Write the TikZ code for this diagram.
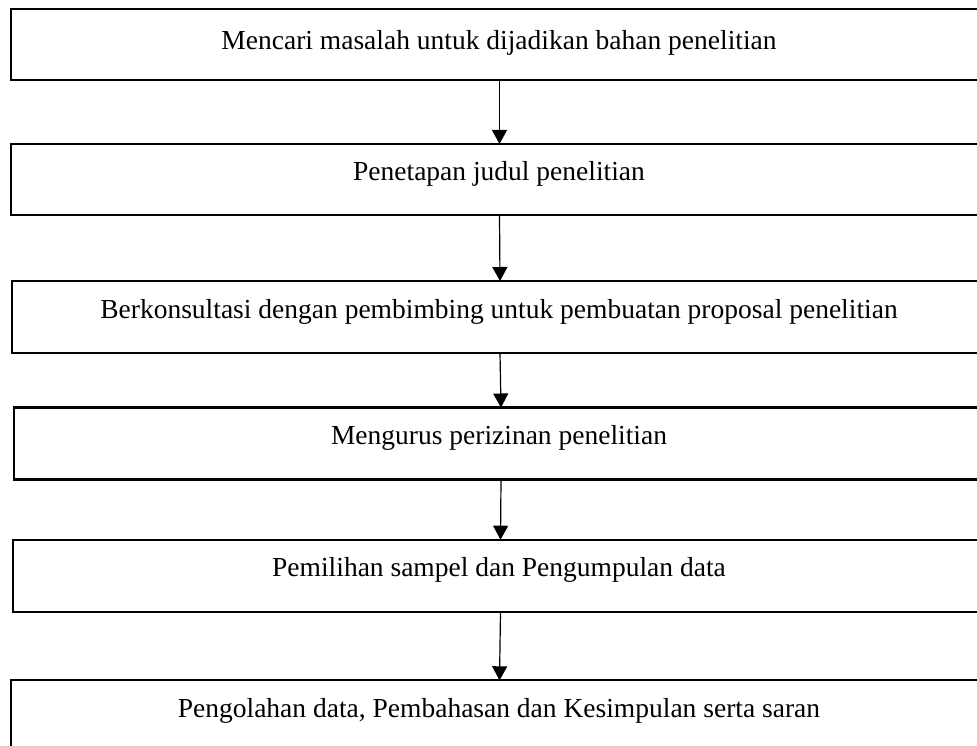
\documentclass[tikz,border=0pt]{standalone}
\usepackage{fontspec}
\setmainfont{Liberation Serif}
\usetikzlibrary{arrows.meta}
\begin{document}
\begin{tikzpicture}[x=1pt,y=1pt,
  stepbox/.style={draw=black, line width=2.2pt, inner sep=0pt, outer sep=0pt, rectangle},
  lbl/.style={anchor=base, inner sep=0pt, font=\fontsize{27.5}{33}\selectfont},
  conn/.style={draw=black, line width=1.2pt, -{Triangle[width=15pt,length=14pt]}}]
\useasboundingbox (0,0) rectangle (977,-746);
\clip (0,0) rectangle (977,-746);
\fill[white] (0,0) rectangle (977,-746);
\node[stepbox, minimum width=977pt, minimum height=71.3pt] (b1) at (499.5,-44.65) {};
\node[stepbox, minimum width=977pt, minimum height=71.3pt] (b2) at (499.5,-179.65) {};
\node[stepbox, minimum width=976pt, minimum height=72pt] (b3) at (500,-317) {};
\node[stepbox, minimum width=974pt, minimum height=72pt] (b4) at (501,-443.5) {};
\node[stepbox, minimum width=975pt, minimum height=72pt] (b5) at (500.5,-575.7) {};
\node[stepbox, minimum width=977pt, minimum height=71.7pt] (b6) at (499.5,-716.15) {};
\node[lbl] (t1) at (499,-50) {Mencari masalah untuk dijadikan bahan penelitian};
\node[lbl] (t2) at (499,-181) {Penetapan judul penelitian};
\node[lbl] (t3) at (499,-318) {Berkonsultasi dengan pembimbing untuk pembuatan proposal penelitian};
\node[lbl] (t4) at (499,-444.5) {Mengurus perizinan penelitian};
\node[lbl] (t5) at (499,-576.7) {Pemilihan sampel dan Pengumpulan data};
\node[lbl] (t6) at (499,-717.3) {Pengolahan data, Pembahasan dan Kesimpulan serta saran};
\draw[conn] (b1.south) -- (b2.north);
\draw[conn] (b2.south) -- (b3.north);
\draw[conn] (b3.south) -- (b4.north);
\draw[conn] (b4.south) -- (b5.north);
\draw[conn] (b5.south) -- (b6.north);
\end{tikzpicture}
\end{document}
